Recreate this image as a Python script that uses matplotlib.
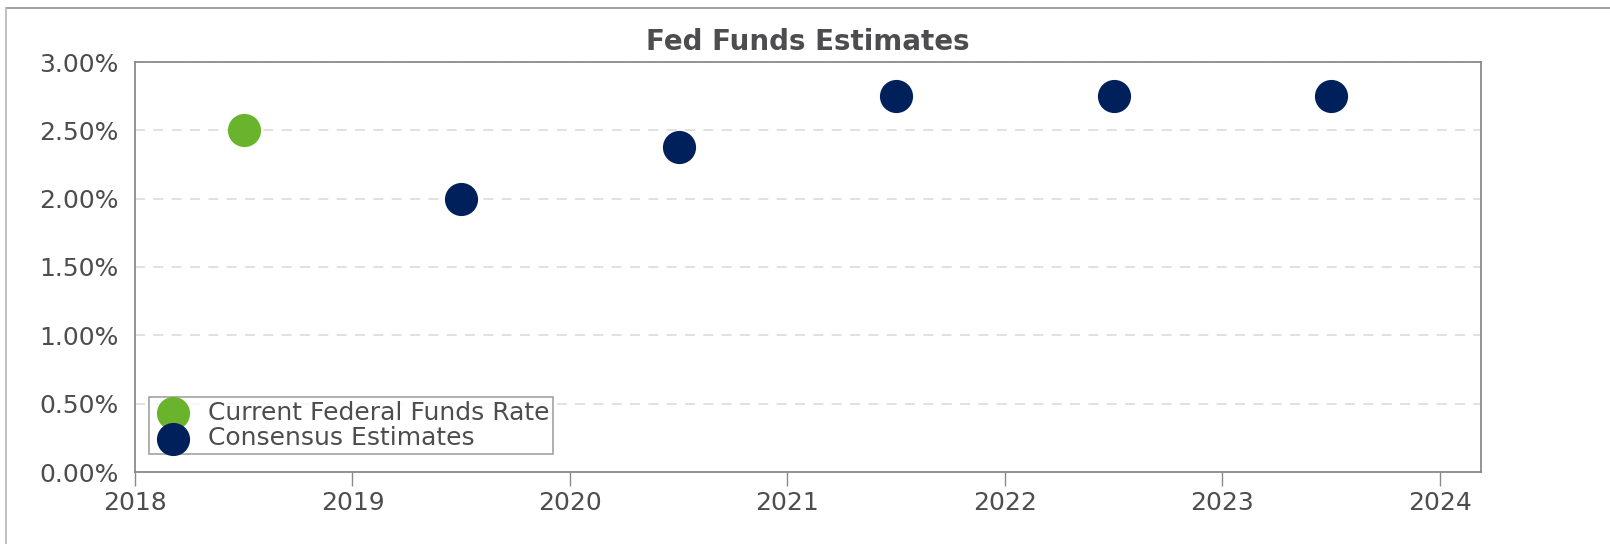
import matplotlib.pyplot as plt
from matplotlib.lines import Line2D
from matplotlib.ticker import FuncFormatter

# data
current_x = [2018.5]
current_y = [2.50]
consensus_x = [2019.5, 2020.5, 2021.5, 2022.5, 2023.5]
consensus_y = [2.00, 2.375, 2.75, 2.75, 2.75]
year_ticks = [2018, 2019, 2020, 2021, 2022, 2023, 2024]
pct_ticks = [0.0, 0.5, 1.0, 1.5, 2.0, 2.5, 3.0]

GREEN = "#6ab42d"
NAVY = "#00205b"
TEXT = "#4d4d4f"
EDGE = "#8a8a8a"

fig = plt.figure(figsize=(16.1, 5.44), dpi=100)
W, H = 1610, 544
ax = fig.add_axes([135 / W, 1 - 472 / H, (1481 - 135) / W, (472 - 62) / H])

ax.scatter(current_x, current_y, s=570, color=GREEN, zorder=3,
           label="Current Federal Funds Rate", linewidths=0)
ax.scatter(consensus_x, consensus_y, s=570, color=NAVY, zorder=3,
           label="Consensus Estimates", linewidths=0)

ax.set_xlim(2018, 2024.19)
ax.set_ylim(0, 3.0)
ax.set_xticks(year_ticks)
ax.set_yticks(pct_ticks)
ax.yaxis.set_major_formatter(FuncFormatter(lambda v, _: f"{v:.2f}%"))
ax.tick_params(axis="x", length=10, width=1, color=EDGE, labelsize=18,
               labelcolor=TEXT, pad=4)
ax.tick_params(axis="y", length=0, labelsize=18, labelcolor=TEXT, pad=12)

ax.grid(axis="y", color="#dcdcdc", ls=(0, (6, 5)), lw=1.2)
ax.set_axisbelow(True)
for sp in ax.spines.values():
    sp.set_color(EDGE)
    sp.set_linewidth(1.3)

ax.set_title("Fed Funds Estimates", fontsize=20, fontweight="bold",
             color=TEXT, pad=9)

leg = ax.legend(loc="lower left", bbox_to_anchor=(0.0104, 0.044),
                fontsize=18, frameon=True, fancybox=False,
                handletextpad=0.6, borderpad=0.15, labelspacing=0.05,
                markerscale=1.0, handlelength=1.6, borderaxespad=0)
leg.get_frame().set_edgecolor(EDGE)
leg.get_frame().set_linewidth(1.2)
for t in leg.get_texts():
    t.set_color(TEXT)

# outer frame (top and left edges only visible)
fig.add_artist(Line2D([6 / W, 1], [1 - 8 / H, 1 - 8 / H], color="#999999", lw=1.3))
fig.add_artist(Line2D([6 / W, 6 / W], [0, 1 - 8 / H], color="#bbbbbb", lw=1.3))

fig.savefig("out.png", dpi=100)
